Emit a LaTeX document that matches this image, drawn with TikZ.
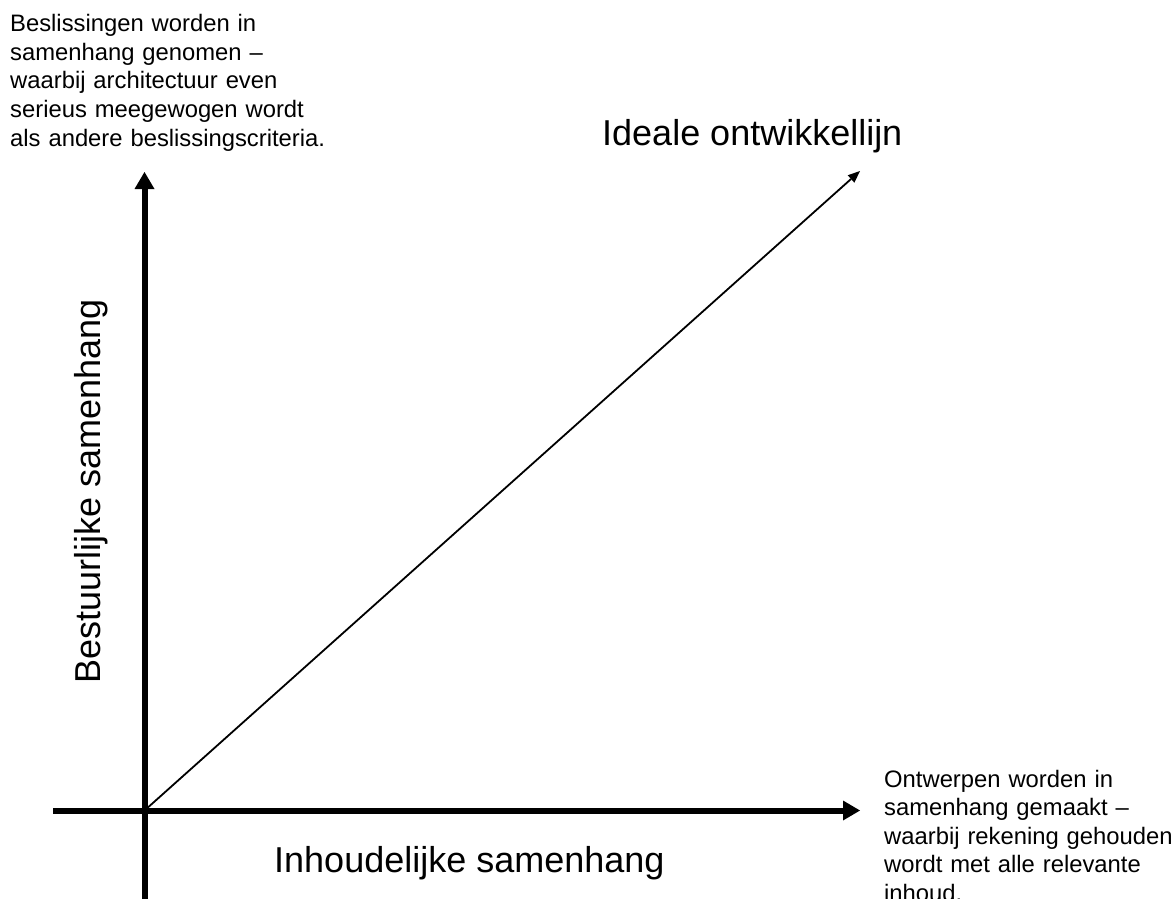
\documentclass[tikz,border=0pt]{standalone}
\usepackage{fontspec}
\setmainfont{Liberation Sans}
\usetikzlibrary{arrows.meta}
\begin{document}
\begin{tikzpicture}[x=1pt,y=-1pt,
  axisline/.style={line width=6pt,-{Triangle[length=17pt,width=20pt,line width=0pt]}},
  diagline/.style={line width=1.8pt,-{Triangle[length=12pt,width=10pt,line width=0pt]}},
  smalltext/.style={inner sep=0pt,anchor=base west,align=left,text width=400pt,
    font=\fontsize{23.8}{28.6}\selectfont},
  bigtext/.style={inner sep=0pt,font=\fontsize{36}{43}\selectfont}]
\useasboundingbox[fill=white] (0,0) rectangle (1176,899);
% axes
\coordinate (O) at (144.5,810.5);
\coordinate (ybot) at (144.5,905);
\coordinate (ytop) at (144.5,172);
\coordinate (xleft) at (53,810.5);
\coordinate (xright) at (860,810.5);
\coordinate (dtip) at (860,171);
\draw[axisline] (ybot) -- (ytop);
\draw[axisline] (xleft) -- (xright);
\draw[diagline] (O) -- (dtip);
% labels
\node[smalltext] (tl) at (10,31.7) {Beslissingen worden in\\samenhang genomen –\\waarbij architectuur even\\serieus meegewogen wordt\\als andere beslissingscriteria.};
\node[smalltext] (br) at (884,787) {Ontwerpen worden in\\samenhang gemaakt –\\waarbij rekening gehouden\\wordt met alle relevante\\inhoud.};
\node[bigtext,anchor=base west] (ideal) at (602,145) {Ideale ontwikkellijn};
\node[bigtext,anchor=base west] (inh) at (274,872) {Inhoudelijke samenhang};
\node[bigtext,anchor=base,rotate=90] (best) at (100,491.5) {Bestuurlijke samenhang};
\end{tikzpicture}
\end{document}
